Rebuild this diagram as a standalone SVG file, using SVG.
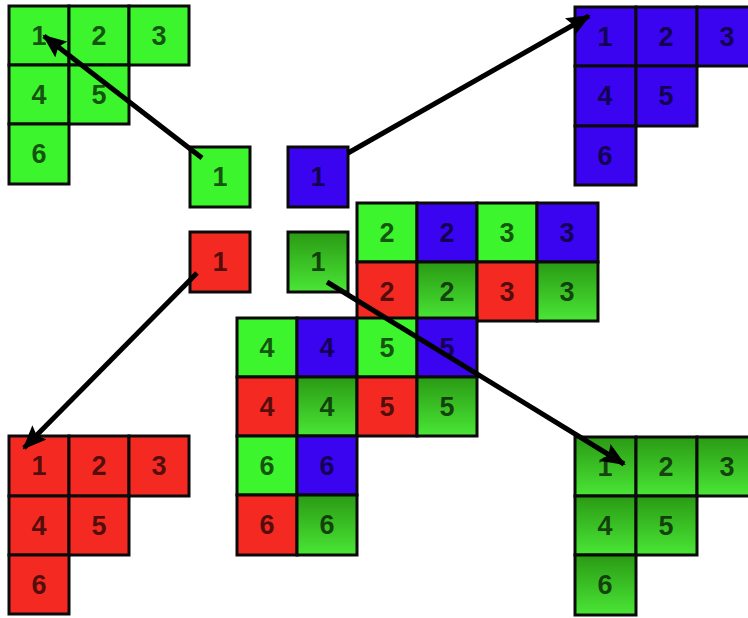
<svg xmlns="http://www.w3.org/2000/svg" width="748" height="618" viewBox="0 0 748 618">
<defs>
<linearGradient id="dg" x1="0" y1="0" x2="0" y2="1">
<stop offset="0" stop-color="#2a9a14"/>
<stop offset="1" stop-color="#4ae636"/>
</linearGradient>
<marker id="ah" markerUnits="userSpaceOnUse" markerWidth="26" markerHeight="20" refX="22" refY="10" orient="auto">
<path d="M0,0 L24,10 L0,20 L4,10 Z" fill="#000"/>
</marker>
<style>
rect{stroke:#0a0a0a;stroke-width:3}
.g{fill:#3cf52c}
.b{fill:#3a04f0}
.r{fill:#f42a22}
.d{fill:url(#dg)}
text{font-family:"Liberation Sans","DejaVu Sans",sans-serif;font-size:27px;font-weight:bold;text-anchor:middle;fill:#000;fill-opacity:0.68}
.c line{stroke:#000;stroke-width:5;marker-end:url(#ah)}
</style>
</defs>
<rect x="0" y="0" width="748" height="618" style="fill:#fff;stroke:none"/>

<g id="tl-block">
<rect class="g" x="9" y="6" width="60" height="59"/><text x="39" y="45">1</text>
<rect class="g" x="69" y="6" width="60" height="59"/><text x="99" y="45">2</text>
<rect class="g" x="129" y="6" width="60" height="59"/><text x="159" y="45">3</text>
<rect class="g" x="9" y="65" width="60" height="59"/><text x="39" y="104">4</text>
<rect class="g" x="69" y="65" width="60" height="59"/><text x="99" y="104">5</text>
<rect class="g" x="9" y="124" width="60" height="60"/><text x="39" y="163">6</text>
</g>

<g id="tr-block">
<rect class="b" x="575" y="7" width="61" height="59"/><text x="605" y="46">1</text>
<rect class="b" x="636" y="7" width="61" height="59"/><text x="666" y="46">2</text>
<rect class="b" x="697" y="7" width="61" height="59"/><text x="727" y="46">3</text>
<rect class="b" x="575" y="66" width="61" height="60"/><text x="605" y="105">4</text>
<rect class="b" x="636" y="66" width="61" height="60"/><text x="666" y="105">5</text>
<rect class="b" x="575" y="126" width="61" height="59"/><text x="605" y="165">6</text>
</g>

<g id="bl-block">
<rect class="r" x="9" y="436" width="60" height="60"/><text x="39" y="475">1</text>
<rect class="r" x="69" y="436" width="60" height="60"/><text x="99" y="475">2</text>
<rect class="r" x="129" y="436" width="60" height="60"/><text x="159" y="475">3</text>
<rect class="r" x="9" y="496" width="60" height="59"/><text x="39" y="535">4</text>
<rect class="r" x="69" y="496" width="60" height="59"/><text x="99" y="535">5</text>
<rect class="r" x="9" y="555" width="60" height="59"/><text x="39" y="594">6</text>
</g>

<g id="br-block">
<rect class="d" x="575" y="437" width="61" height="59"/><text x="605" y="476">1</text>
<rect class="d" x="636" y="437" width="61" height="59"/><text x="666" y="476">2</text>
<rect class="d" x="697" y="437" width="61" height="59"/><text x="727" y="476">3</text>
<rect class="d" x="575" y="496" width="61" height="59"/><text x="605" y="535">4</text>
<rect class="d" x="636" y="496" width="61" height="59"/><text x="666" y="535">5</text>
<rect class="d" x="575" y="555" width="61" height="60"/><text x="605" y="594">6</text>
</g>

<g id="small-green"><rect class="g" x="190" y="147" width="60" height="60"/><text x="220" y="186">1</text></g>
<g id="small-blue"><rect class="b" x="288" y="147" width="60" height="60"/><text x="318" y="186">1</text></g>
<g id="small-red"><rect class="r" x="190" y="232" width="60" height="60"/><text x="220" y="271">1</text></g>
<g id="small-darkgreen"><rect class="d" x="288" y="232" width="60" height="60"/><text x="318" y="271">1</text></g>

<g id="center-upper">
<rect class="g" x="357" y="203" width="60" height="59"/><text x="387" y="242">2</text>
<rect class="b" x="417" y="203" width="60" height="59"/><text x="447" y="242">2</text>
<rect class="g" x="477" y="203" width="60" height="59"/><text x="507" y="242">3</text>
<rect class="b" x="537" y="203" width="61" height="59"/><text x="567" y="242">3</text>
<rect class="r" x="357" y="262" width="60" height="59"/><text x="387" y="301">2</text>
<rect class="d" x="417" y="262" width="60" height="59"/><text x="447" y="301">2</text>
<rect class="r" x="477" y="262" width="60" height="59"/><text x="507" y="301">3</text>
<rect class="d" x="537" y="262" width="61" height="59"/><text x="567" y="301">3</text>
</g>

<g id="center-lower">
<rect class="g" x="237" y="318" width="60" height="59"/><text x="267" y="357">4</text>
<rect class="b" x="297" y="318" width="60" height="59"/><text x="327" y="357">4</text>
<rect class="g" x="357" y="318" width="60" height="59"/><text x="387" y="357">5</text>
<rect class="b" x="417" y="318" width="60" height="59"/><text x="447" y="357">5</text>
<rect class="r" x="237" y="377" width="60" height="59"/><text x="267" y="416">4</text>
<rect class="d" x="297" y="377" width="60" height="59"/><text x="327" y="416">4</text>
<rect class="r" x="357" y="377" width="60" height="59"/><text x="387" y="416">5</text>
<rect class="d" x="417" y="377" width="60" height="59"/><text x="447" y="416">5</text>
<rect class="g" x="237" y="436" width="60" height="59"/><text x="267" y="475">6</text>
<rect class="b" x="297" y="436" width="60" height="59"/><text x="327" y="475">6</text>
<rect class="r" x="237" y="495" width="60" height="60"/><text x="267" y="534">6</text>
<rect class="d" x="297" y="495" width="60" height="60"/><text x="327" y="534">6</text>
</g>

<g id="connectors" class="c">
<line x1="202" y1="158" x2="44" y2="36"/>
<line x1="348" y1="153" x2="589" y2="16"/>
<line x1="197" y1="273" x2="24" y2="448"/>
<line x1="327" y1="282" x2="624" y2="464"/>
</g>
</svg>
